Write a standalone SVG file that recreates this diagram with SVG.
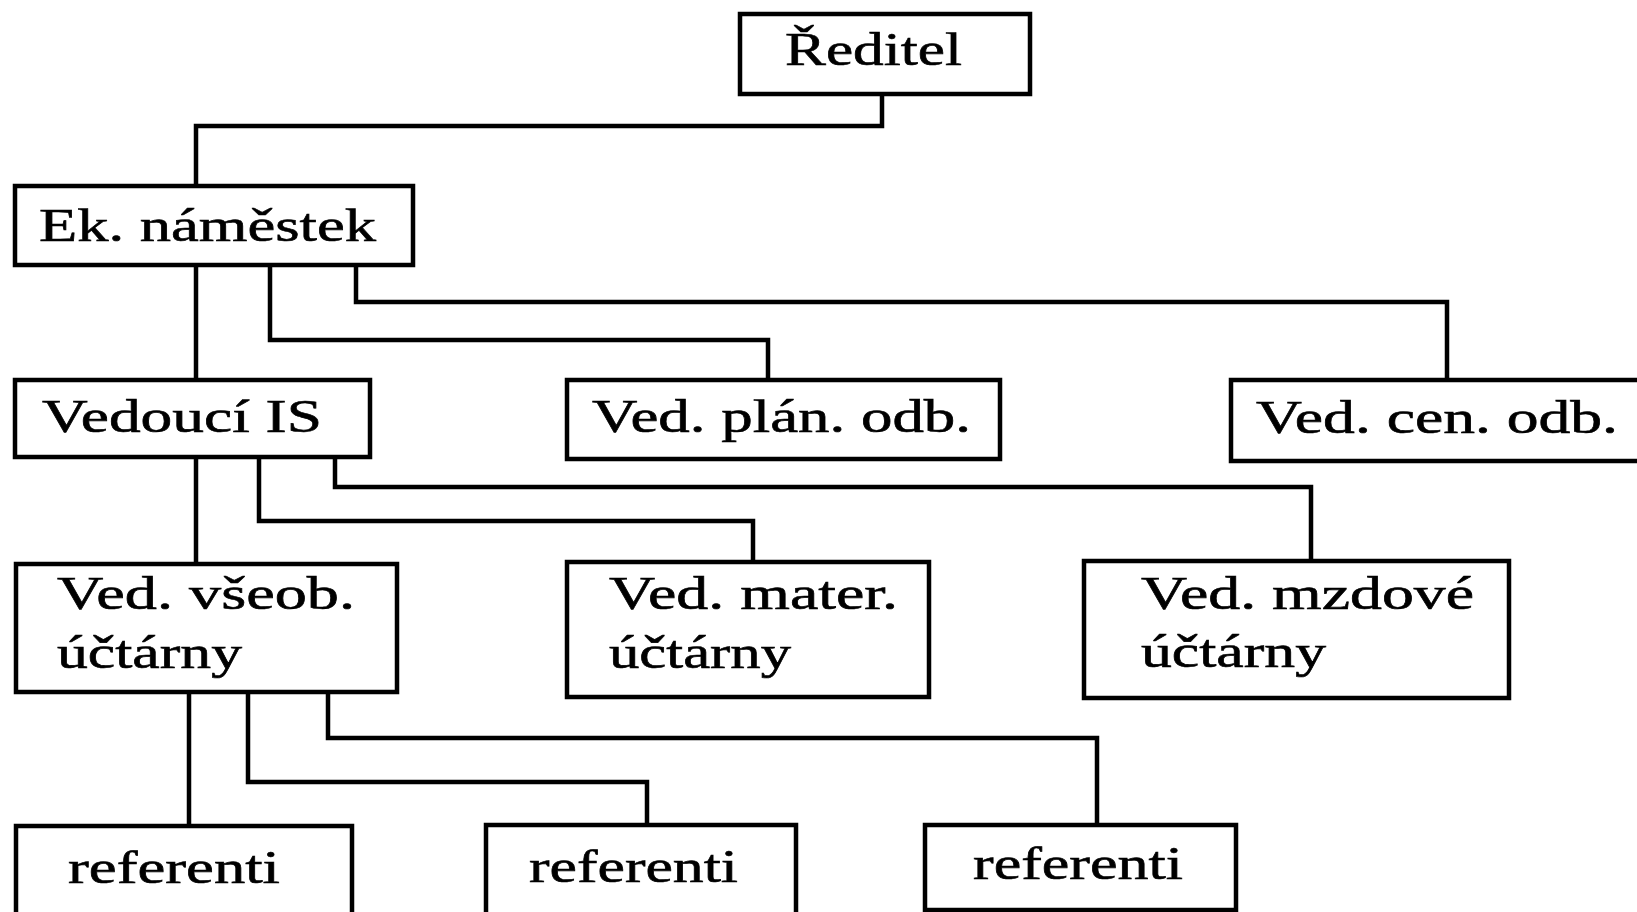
<svg xmlns="http://www.w3.org/2000/svg" width="1637" height="912" viewBox="0 0 1637 912">
<style>
.box{fill:#fff;stroke:#000;stroke-width:4.5}
.con{fill:none;stroke:#000;stroke-width:4.5}
text{font-family:"Liberation Serif","Times New Roman",serif;font-size:46px;fill:#000;stroke:#000;stroke-width:0.6}
</style>
<rect width="1637" height="912" fill="#fff"/>
<g id="connectors">
<path class="con" d="M882,94 V126 H196 V186"/>
<path class="con" d="M196,265 V380"/>
<path class="con" d="M270,265 V340 H768 V380"/>
<path class="con" d="M356,265 V302 H1447 V380"/>
<path class="con" d="M196,457 V564"/>
<path class="con" d="M259,457 V521 H753 V562"/>
<path class="con" d="M335,457 V487 H1311 V561"/>
<path class="con" d="M189,692 V826"/>
<path class="con" d="M248,692 V782 H647 V825"/>
<path class="con" d="M328,692 V738 H1097 V825"/>
</g>
<g id="reditel"><rect class="box" x="740" y="14" width="290" height="80"/><text x="785" y="65" textLength="177" lengthAdjust="spacingAndGlyphs">Ředitel</text></g>
<g id="ek-namestek"><rect class="box" x="15" y="186" width="398" height="79"/><text x="39" y="241" textLength="337" lengthAdjust="spacingAndGlyphs">Ek. náměstek</text></g>
<g id="vedouci-is"><rect class="box" x="15" y="380" width="355" height="77"/><text x="42" y="432" textLength="280" lengthAdjust="spacingAndGlyphs">Vedoucí IS</text></g>
<g id="ved-plan"><rect class="box" x="567" y="380" width="433" height="79"/><text x="592" y="432" textLength="379" lengthAdjust="spacingAndGlyphs">Ved. plán. odb.</text></g>
<g id="ved-cen"><rect class="box" x="1231" y="380" width="410" height="81"/><text x="1256" y="433" textLength="362" lengthAdjust="spacingAndGlyphs">Ved. cen. odb.</text></g>
<g id="ved-vseob"><rect class="box" x="16" y="564" width="381" height="128"/><text x="57" y="609" textLength="298" lengthAdjust="spacingAndGlyphs">Ved. všeob.</text><text x="57" y="668" textLength="185" lengthAdjust="spacingAndGlyphs">účtárny</text></g>
<g id="ved-mater"><rect class="box" x="567" y="562" width="362" height="135"/><text x="609" y="609" textLength="289" lengthAdjust="spacingAndGlyphs">Ved. mater.</text><text x="609" y="668" textLength="182" lengthAdjust="spacingAndGlyphs">účtárny</text></g>
<g id="ved-mzdove"><rect class="box" x="1084" y="561" width="425" height="137"/><text x="1141" y="609" textLength="333" lengthAdjust="spacingAndGlyphs">Ved. mzdové</text><text x="1141" y="667" textLength="185" lengthAdjust="spacingAndGlyphs">účtárny</text></g>
<g id="referenti-1"><rect class="box" x="16" y="826" width="336" height="100"/><text x="68" y="883" textLength="212" lengthAdjust="spacingAndGlyphs">referenti</text></g>
<g id="referenti-2"><rect class="box" x="486" y="825" width="310" height="100"/><text x="529" y="882" textLength="209" lengthAdjust="spacingAndGlyphs">referenti</text></g>
<g id="referenti-3"><rect class="box" x="925" y="825" width="311" height="85"/><text x="973" y="879" textLength="210" lengthAdjust="spacingAndGlyphs">referenti</text></g>
</svg>
